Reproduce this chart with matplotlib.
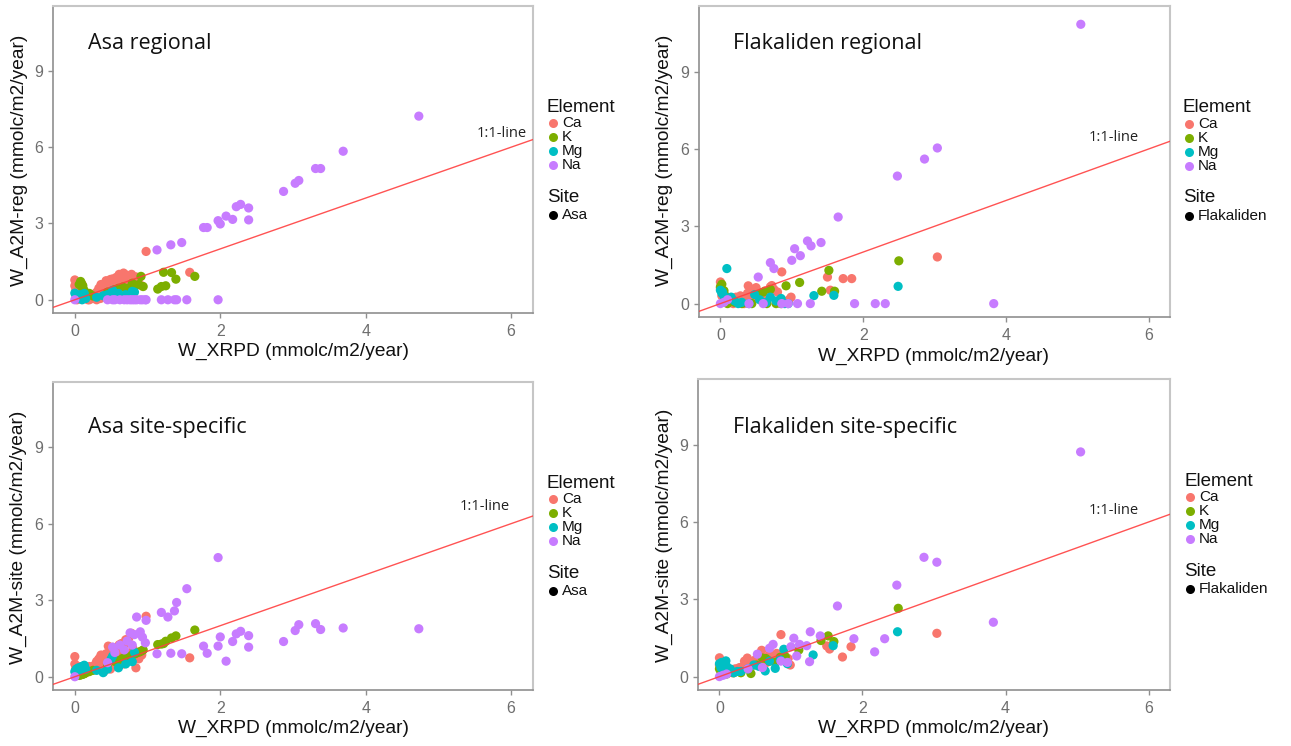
import matplotlib
matplotlib.use("Agg")
import matplotlib.pyplot as plt
from matplotlib.lines import Line2D

FIG_W, FIG_H = 1291, 746

elements = ["Ca", "K", "Mg", "Na"]
element_colors = ["#F8766D", "#7CAE00", "#00BFC4", "#C77CFF"]
x_ticks = [0, 2, 4, 6]
y_ticks = [0, 3, 6, 9]
x_label = "W_XRPD (mmolc/m2/year)"
y_label_reg = "W_A2M-reg (mmolc/m2/year)"
y_label_site = "W_A2M-site (mmolc/m2/year)"
line_label = "1:1-line"

# ---- Asa: weathering from XRPD (x) vs. A2M regional / site-specific ----
asa_ca_x = [0.00, 0.00, 0.01, 0.02, 0.03, 0.18, 0.22, 0.27, 0.30, 0.33, 0.36, 0.40, 0.43, 0.46, 0.49,
            0.52, 0.55, 0.58, 0.61, 0.64, 0.67, 0.70, 0.74, 0.78, 0.84, 0.88, 0.92, 0.98, 1.58,
            0.05, 0.10, 0.12, 0.25, 0.30, 0.35, 0.38, 0.42, 0.48, 0.53, 0.57, 0.60, 0.65, 0.70,
            0.75, 0.80, 0.15, 0.20]
asa_ca_reg = [0.78, 0.55, 0.35, 0.15, 0.00, 0.00, 0.05, 0.20, 0.30, 0.45, 0.60, 0.15, 0.75, 0.40, 0.80,
              0.82, 0.45, 0.75, 1.00, 0.60, 1.05, 0.98, 0.70, 1.00, 0.90, 0.85, 0.55, 1.90, 1.08,
              0.45, 0.60, 0.20, 0.05, 0.00, 0.05, 0.35, 0.55, 0.65, 0.60, 0.88, 0.55, 0.85, 0.80,
              0.60, 0.75, 0.10, 0.00]
asa_ca_site = [0.79, 0.50, 0.30, 0.10, 0.05, 0.30, 0.25, 0.45, 0.55, 0.70, 0.85, 0.20, 0.90, 1.20, 0.30,
               1.15, 1.10, 0.40, 1.25, 1.30, 0.50, 1.45, 1.50, 1.70, 0.35, 0.70, 0.85, 2.37, 0.74,
               0.40, 0.25, 0.20, 0.35, 0.60, 0.75, 0.50, 0.80, 0.95, 0.75, 1.05, 0.65, 0.95, 1.30,
               0.90, 1.10, 0.15, 0.40]

asa_k_x = [0.06, 0.08, 0.10, 0.12, 0.14, 0.16, 0.20, 0.60, 0.66, 0.72, 0.79, 0.83, 0.88, 0.91, 0.94,
           1.14, 1.19, 1.22, 1.25, 1.33, 1.39, 1.65, 0.09, 0.11, 0.13, 0.25, 0.45, 0.55]
asa_k_reg = [0.60, 0.72, 0.50, 0.40, 0.30, 0.20, 0.25, 0.45, 0.50, 0.45, 0.65, 0.55, 0.60, 0.92, 0.52,
             0.42, 0.52, 1.08, 0.55, 1.07, 0.81, 0.92, 0.65, 0.55, 0.35, 0.15, 0.30, 0.40]
asa_k_site = [0.05, 0.08, 0.10, 0.12, 0.15, 0.18, 0.20, 0.65, 0.72, 0.78, 0.85, 0.90, 0.96, 1.00, 1.05,
              1.26, 1.28, 1.30, 1.39, 1.52, 1.60, 1.83, 0.08, 0.10, 0.12, 0.25, 0.48, 0.60]

asa_mg_x = [0.00, 0.02, 0.05, 0.10, 0.12, 0.15, 0.39, 0.45, 0.52, 0.60, 0.79, 0.82,
            0.07, 0.09, 0.13, 0.30, 0.50, 0.70]
asa_mg_reg = [0.26, 0.15, 0.05, 0.00, 0.15, 0.05, 0.16, 0.20, 0.37, 0.25, 0.33, 0.30,
              0.20, 0.10, 0.25, 0.10, 0.15, 0.20]
asa_mg_site = [0.20, 0.30, 0.35, 0.40, 0.42, 0.30, 0.16, 0.30, 0.81, 0.35, 0.59, 0.96,
               0.25, 0.38, 0.45, 0.25, 0.70, 0.50]

asa_na_x = [4.73, 3.69, 3.38, 3.31, 3.08, 3.03, 2.87, 2.39, 2.39, 2.28, 2.22, 2.17, 2.08, 2.00, 1.97,
            1.97, 1.82, 1.77, 1.54, 1.47, 1.40, 1.37, 1.32, 1.28, 1.19, 1.13,
            0.00, 0.45, 0.52, 0.62, 0.76, 0.79, 0.82, 0.85, 0.90, 0.93, 0.97, 0.98,
            0.55, 0.68, 0.72]
asa_na_reg = [7.22, 5.84, 5.16, 5.16, 4.69, 4.58, 4.26, 3.61, 3.14, 3.75, 3.66, 3.16, 3.29, 2.98, 3.11,
              0.00, 2.84, 2.84, 0.00, 2.25, 0.00, 0.00, 2.16, 0.00, 0.00, 1.96,
              0.00, 0.00, 0.00, 0.00, 0.00, 0.00, 0.00, 0.00, 0.00, 0.00, 0.00, 0.00,
              0.00, 0.00, 0.00]
asa_na_site = [1.88, 1.91, 1.85, 2.08, 2.04, 1.81, 1.38, 1.61, 1.16, 1.78, 1.68, 1.38, 0.61, 1.56, 1.20,
               4.67, 0.92, 1.20, 3.45, 0.90, 2.91, 2.58, 0.92, 2.34, 2.52, 0.90,
               0.00, 0.55, 1.16, 1.24, 1.72, 1.24, 1.65, 2.34, 1.76, 1.55, 1.33, 2.21,
               0.95, 1.05, 1.40]

# ---- Flakaliden ----
fla_ca_x = [3.04, 1.84, 1.72, 1.50, 1.54, 0.86, 0.99, 0.96, 0.39, 0.00, 0.00, 0.02, 0.05, 0.15, 0.22,
            0.28, 0.33, 0.45, 0.50, 0.55, 0.59, 0.63, 0.70, 0.75, 0.80, 0.42, 0.35,
            0.08, 0.12, 0.18, 0.25, 0.38, 0.48, 0.66, 0.72]
fla_ca_reg = [1.81, 0.97, 0.97, 1.03, 0.52, 1.23, 0.25, 0.15, 0.69, 0.84, 0.60, 0.30, 0.10, 0.20, 0.25,
              0.30, 0.00, 0.55, 0.62, 0.40, 0.30, 0.50, 0.65, 0.55, 0.45, 0.30, 0.15,
              0.15, 0.05, 0.00, 0.10, 0.40, 0.20, 0.35, 0.70]
fla_ca_site = [1.68, 1.16, 0.76, 1.19, 1.07, 1.63, 0.45, 0.70, 0.72, 0.73, 0.45, 0.30, 0.15, 0.20, 0.30,
               0.35, 0.40, 0.55, 0.65, 0.60, 1.02, 0.75, 0.85, 0.70, 0.90, 0.45, 0.60,
               0.20, 0.25, 0.15, 0.30, 0.50, 0.45, 0.55, 0.65]

fla_k_x = [2.50, 1.52, 1.60, 1.42, 1.11, 0.92, 0.00, 0.02, 0.05, 0.10, 0.30, 0.44, 0.60, 0.65, 0.70,
           0.78, 0.85, 0.03, 0.07, 0.20, 0.52]
fla_k_reg = [1.66, 1.29, 0.48, 0.48, 0.82, 0.69, 0.65, 0.75, 0.50, 0.00, 0.00, 0.00, 0.45, 0.00, 0.55,
             0.00, 0.00, 0.40, 0.30, 0.05, 0.35]
fla_k_site = [2.65, 1.58, 1.36, 1.40, 1.03, 0.78, 0.30, 0.20, 0.15, 0.10, 0.15, 0.12, 0.72, 0.70, 0.60,
              0.55, 0.75, 0.25, 0.35, 0.15, 0.45]

fla_mg_x = [2.49, 1.59, 1.31, 0.90, 0.78, 0.64, 0.09, 0.00, 0.02, 0.05, 0.15, 0.20, 0.30, 0.40, 0.48,
            0.55, 0.85, 0.95, 0.03, 0.10, 0.25, 0.70]
fla_mg_reg = [0.67, 0.32, 0.31, 0.00, 0.10, 0.05, 1.36, 0.52, 0.40, 0.30, 0.25, 0.10, 0.05, 0.00, 0.35,
              0.15, 0.20, 0.00, 0.45, 0.20, 0.00, 0.25]
fla_mg_site = [1.74, 1.20, 0.84, 1.06, 0.32, 0.22, 0.61, 0.50, 0.35, 0.25, 0.30, 0.15, 0.20, 0.30, 0.45,
               0.40, 0.65, 0.50, 0.55, 0.40, 0.20, 0.60]

fla_na_x = [5.05, 3.04, 2.86, 2.48, 3.83, 2.31, 2.17, 1.88, 1.65, 1.41, 1.27, 1.26, 1.22, 1.04, 1.12,
            1.00, 1.08, 0.70, 0.75, 0.53, 0.00, 0.10, 0.60, 0.86, 0.95, 0.05, 0.40]
fla_na_reg = [10.84, 6.04, 5.61, 4.95, 0.00, 0.00, 0.00, 0.00, 3.36, 2.37, 2.24, 0.00, 2.43, 2.13, 1.86,
              1.68, 0.00, 1.59, 1.36, 1.03, 0.00, 0.15, 0.00, 0.00, 0.00, 0.05, 0.00]
fla_na_site = [8.72, 4.44, 4.63, 3.55, 2.11, 1.47, 0.96, 1.47, 2.74, 1.58, 1.74, 0.58, 1.20, 1.49, 1.25,
               1.16, 0.80, 1.10, 1.25, 0.87, 0.00, 0.10, 0.35, 0.60, 0.55, 0.05, 0.30]

asa_x = [asa_ca_x, asa_k_x, asa_mg_x, asa_na_x]
asa_reg = [asa_ca_reg, asa_k_reg, asa_mg_reg, asa_na_reg]
asa_site = [asa_ca_site, asa_k_site, asa_mg_site, asa_na_site]
fla_x = [fla_ca_x, fla_k_x, fla_mg_x, fla_na_x]
fla_reg = [fla_ca_reg, fla_k_reg, fla_mg_reg, fla_na_reg]
fla_site = [fla_ca_site, fla_k_site, fla_mg_site, fla_na_site]

panels = [
    dict(title="Asa regional", site="Asa", xs=asa_x, ys=asa_reg, ylabel=y_label_reg,
         box=(53, 533, 6, 313), title_xy=(88, 44), xlab_xy=(293, 351), ylab_xy=(19, 160),
         line_txt=(5.87, 6.54), leg=(547, 107)),
    dict(title="Flakaliden regional", site="Flakaliden", xs=fla_x, ys=fla_reg, ylabel=y_label_reg,
         box=(699, 1170, 6, 317), title_xy=(733, 44), xlab_xy=(934, 356), ylab_xy=(664, 160),
         line_txt=(5.51, 6.43), leg=(1183, 108)),
    dict(title="Asa site-specific", site="Asa", xs=asa_x, ys=asa_site, ylabel=y_label_site,
         box=(53, 533, 382, 690), title_xy=(88, 427), xlab_xy=(293, 728), ylab_xy=(18, 537),
         line_txt=(5.63, 6.69), leg=(547, 483)),
    dict(title="Flakaliden site-specific", site="Flakaliden", xs=fla_x, ys=fla_site, ylabel=y_label_site,
         box=(698, 1170, 379, 690), title_xy=(733, 427), xlab_xy=(934, 728), ylab_xy=(664, 535),
         line_txt=(5.52, 6.45), leg=(1184, 481)),
]

LABEL_FONT = "Liberation Sans"
NOTE_FONT = "Open Sans"
DARK_EDGE = "#8f8f8f"
LIGHT_EDGE = "#c6c6c6"
TICK_TEXT = "#6e6e6e"


def fx(px):
    return px / FIG_W


def fy(py):
    return 1 - py / FIG_H


fig = plt.figure(figsize=(FIG_W / 100, FIG_H / 100), dpi=100)
fig.patch.set_facecolor("white")

for p in panels:
    l, r, t, b = p["box"]
    ax = fig.add_axes([fx(l), fy(b), (r - l) / FIG_W, (b - t) / FIG_H])
    ax.set_xlim(-0.30, 6.30)
    ax.set_ylim(-0.52, 11.55)

    for xs, ys, col in zip(p["xs"], p["ys"], element_colors):
        ax.scatter(xs, ys, s=44, color=col, edgecolors="none", zorder=2)

    ax.axline((0, 0), slope=1, color="#ff4040", lw=1.0, alpha=0.9, zorder=3)
    ax.text(p["line_txt"][0], p["line_txt"][1], line_label, ha="center", va="center",
            fontsize=10.5, family=NOTE_FONT, color="#222222")

    ax.set_xticks(x_ticks)
    ax.set_yticks(y_ticks)
    ax.tick_params(axis="both", direction="out", length=3.5, width=1.0, color=DARK_EDGE,
                   labelcolor=TICK_TEXT, labelsize=11.5)
    ax.tick_params(axis="x", pad=4.5)
    ax.tick_params(axis="y", pad=3.5)
    for lbl in ax.get_xticklabels() + ax.get_yticklabels():
        lbl.set_family(LABEL_FONT)
    for side in ("left", "bottom"):
        ax.spines[side].set_color(DARK_EDGE)
        ax.spines[side].set_linewidth(1.2)
    for side in ("top", "right"):
        ax.spines[side].set_color(LIGHT_EDGE)
        ax.spines[side].set_linewidth(1.5)

    # panel title and axis titles
    fig.text(fx(p["title_xy"][0]), fy(p["title_xy"][1]), p["title"], ha="left", va="center",
             fontsize=15.5, family=NOTE_FONT, color="#111111")
    fig.text(fx(p["xlab_xy"][0]), fy(p["xlab_xy"][1]), x_label, ha="center", va="center",
             fontsize=13.8, family=LABEL_FONT, color="#111111")
    fig.text(fx(p["ylab_xy"][0]), fy(p["ylab_xy"][1]), p["ylabel"], ha="center", va="center",
             rotation=90, fontsize=13.8, family=LABEL_FONT, color="#111111")

    # legend: Element (colour) and Site (shape)
    lx, ly = p["leg"]
    fig.text(fx(lx), fy(ly), "Element", ha="left", va="center", fontsize=13.5,
             family=LABEL_FONT, color="#111111")
    for i, (name, col) in enumerate(zip(elements, element_colors)):
        yy = ly + 16 + 14 * i
        fig.add_artist(Line2D([fx(lx + 6)], [fy(yy)], marker="o", markersize=6.5, color=col,
                              markeredgewidth=0, linestyle="none"))
        fig.text(fx(lx + 15), fy(yy), name, ha="left", va="center", fontsize=11,
                 family=LABEL_FONT, color="#111111")
    fig.text(fx(lx), fy(ly + 90), "Site", ha="left", va="center", fontsize=13.5,
             family=LABEL_FONT, color="#111111")
    fig.add_artist(Line2D([fx(lx + 6)], [fy(ly + 108)], marker="o", markersize=6.5, color="black",
                          markeredgewidth=0, linestyle="none"))
    fig.text(fx(lx + 15), fy(ly + 108), p["site"], ha="left", va="center", fontsize=11,
             family=LABEL_FONT, color="#111111")

fig.savefig("out.png", dpi=100, facecolor="white")
